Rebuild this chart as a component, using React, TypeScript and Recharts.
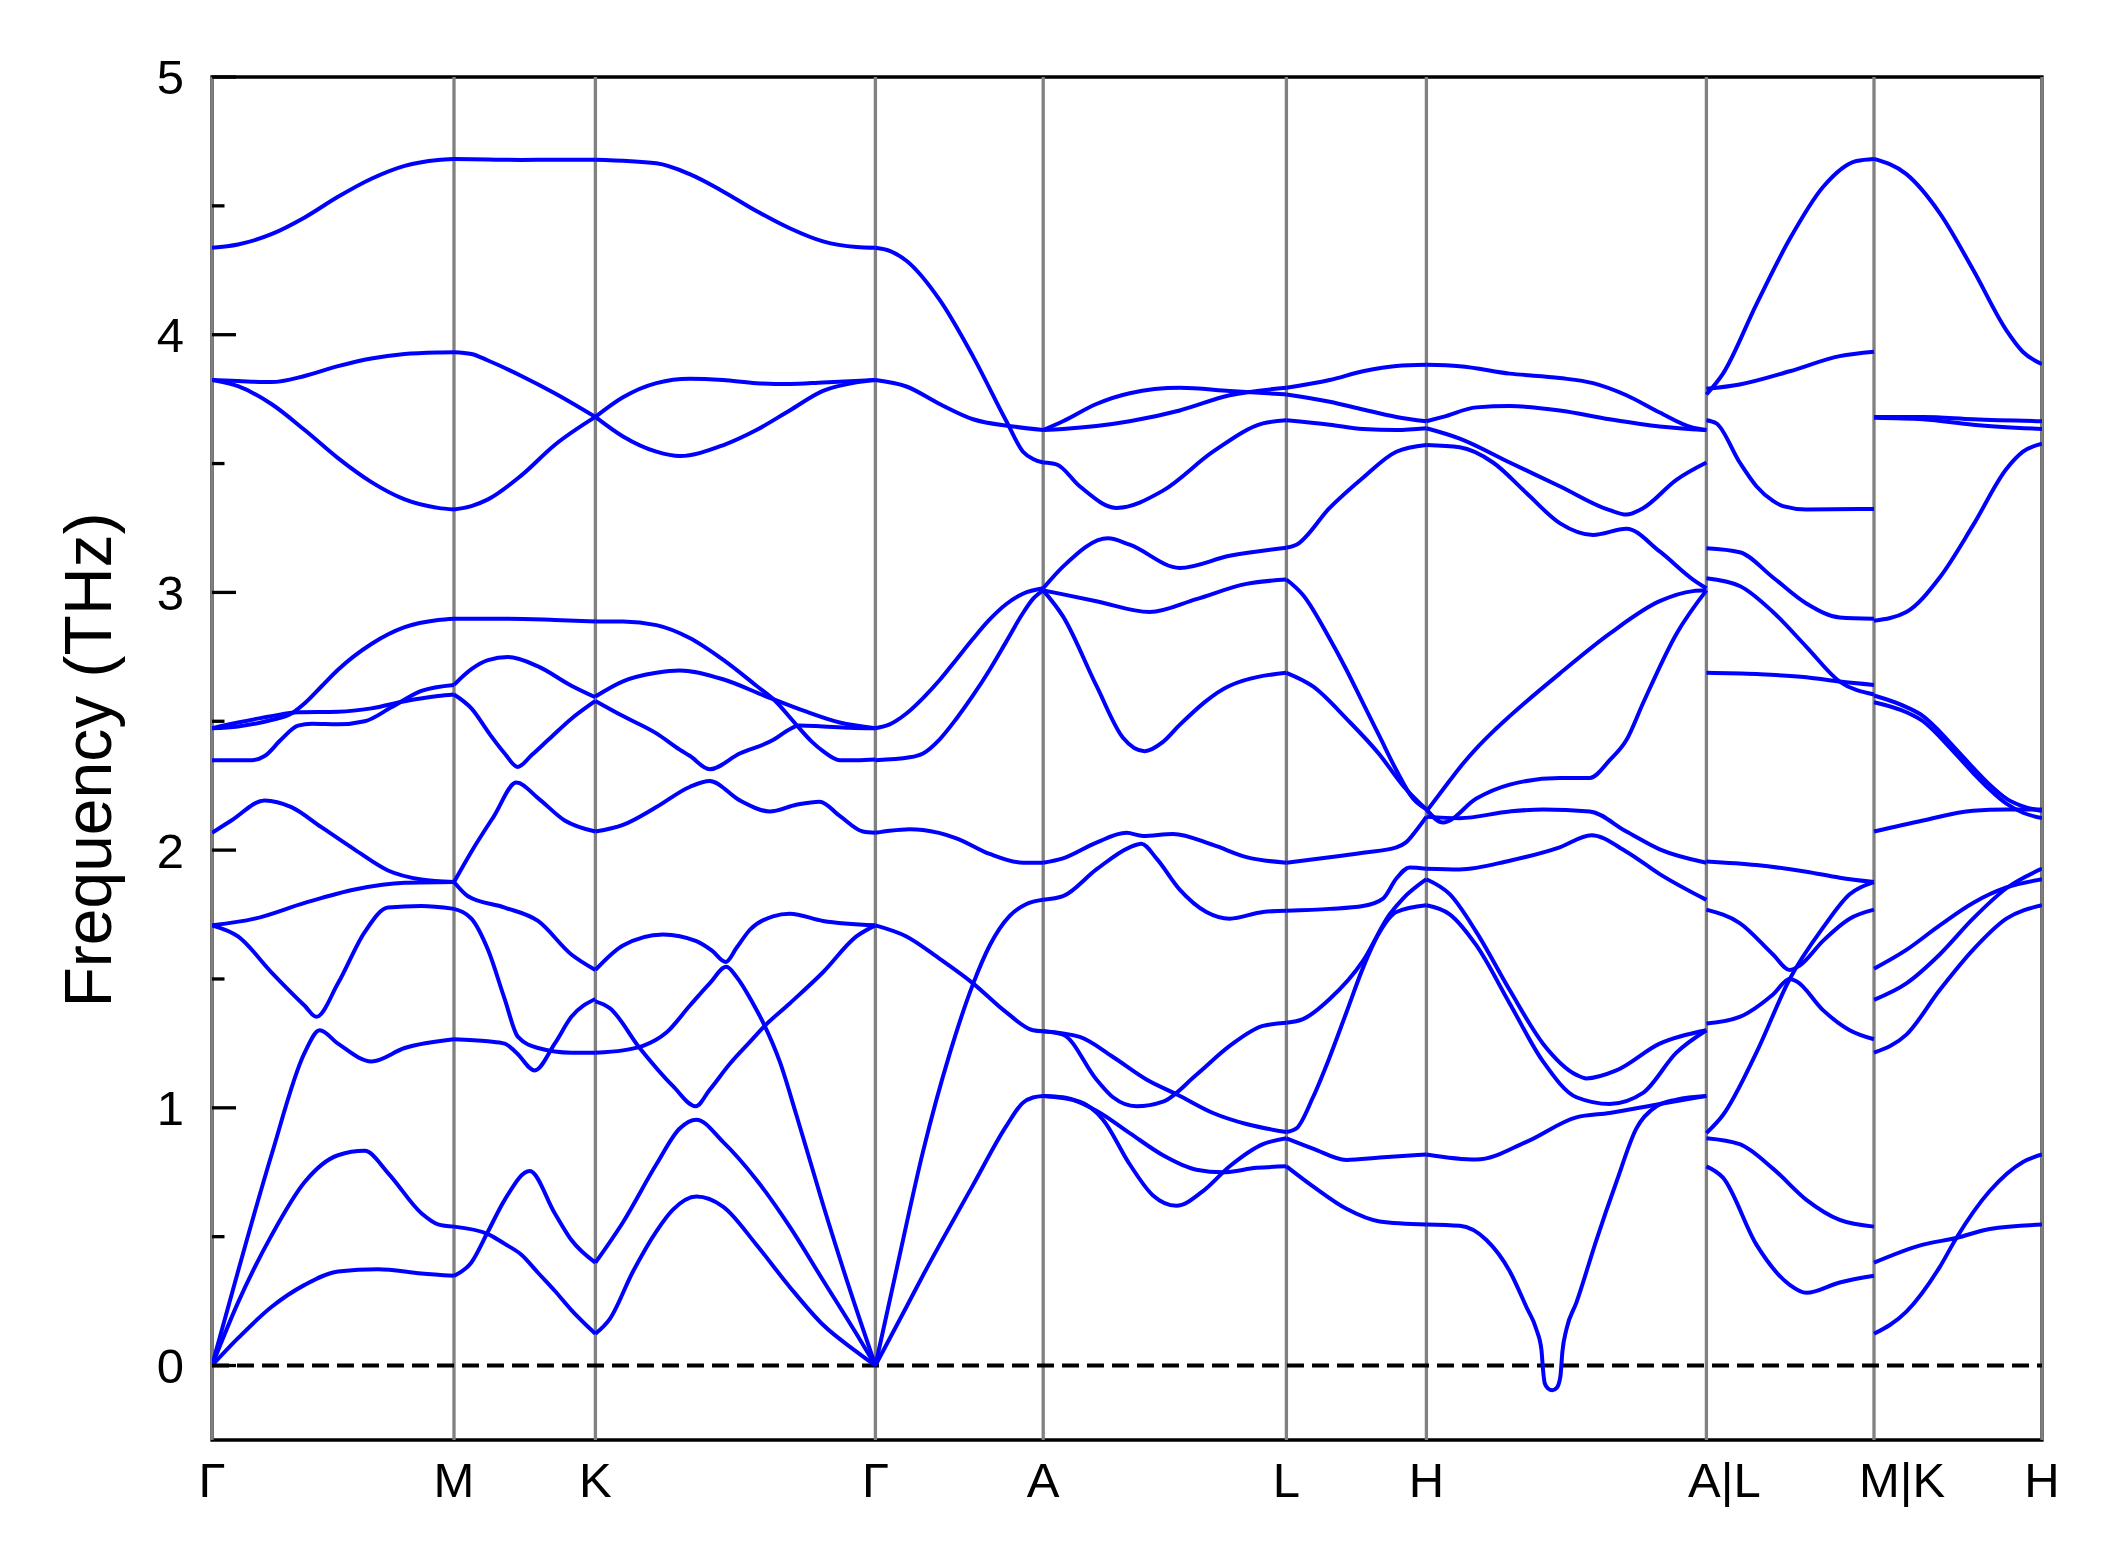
import React from 'react';
import { LineChart, Line, XAxis, YAxis, ReferenceLine, ReferenceArea } from 'recharts';

if (typeof document !== 'undefined') document.body.style.margin = '0';

type Band = [number, number][];

const FONT = '"Liberation Sans", Arial, Helvetica, sans-serif';
const W = 2120;
const H = 1567;

// distance along the k-path of each high-symmetry point
const kPoints = [0, 242, 383.4, 663.4, 831.2, 1074.4, 1214.4, 1494.4, 1662, 1830];
const kLabels = ['Γ', 'M', 'K', 'Γ', 'A', 'L', 'H', 'A|L', 'M|K', 'H'];
const freqTicks = [0, 0.5, 1, 1.5, 2, 2.5, 3, 3.5, 4, 4.5, 5];
const freqMin = -0.289;
const freqMax = 5;

// Γ - M
const gammaM: Band[] = [
  [[0, 4.337], [26, 4.35], [59.4, 4.39], [92.7, 4.455], [126, 4.535], [159.4, 4.605], [192.7, 4.655], [226, 4.678], [242, 4.682]],
  [[0, 3.824], [26, 3.82], [59.4, 3.816], [92.7, 3.84], [126, 3.878], [159.4, 3.908], [192.7, 3.925], [226, 3.931], [242, 3.932]],
  [[0, 3.824], [26, 3.8], [59.4, 3.731], [92.7, 3.63], [126, 3.521], [159.4, 3.428], [192.7, 3.361], [226, 3.328], [242, 3.322]],
  [[0, 2.473], [26, 2.48], [59.4, 2.505], [79.4, 2.53], [92.7, 2.57], [109.4, 2.635], [126, 2.7], [159.4, 2.8], [192.7, 2.865], [226, 2.893], [242, 2.898]],
  [[0, 2.473], [26, 2.495], [59.4, 2.52], [86, 2.535], [126, 2.537], [159.4, 2.55], [192.7, 2.578], [226, 2.598], [242, 2.604]],
  [[0, 2.349], [40, 2.349], [52.7, 2.365], [69.4, 2.43], [86, 2.483], [100, 2.49], [126, 2.488], [152.7, 2.5], [179.4, 2.554], [209.4, 2.618], [242, 2.641]],
  [[0, 2.067], [19.4, 2.115], [52.7, 2.193], [79.4, 2.167], [109.4, 2.089], [142.7, 2.002], [176, 1.921], [209.4, 1.886], [242, 1.876]],
  [[0, 1.708], [42.7, 1.734], [92.7, 1.795], [142.7, 1.847], [192.7, 1.873], [242, 1.876]],
  [[0, 1.708], [26, 1.665], [59.4, 1.526], [92.7, 1.396], [104.4, 1.353], [126, 1.483], [152.7, 1.682], [176, 1.777], [209.4, 1.783], [242, 1.772]],
  [[0, 0], [26, 0.365], [59.4, 0.816], [92.7, 1.214], [107.7, 1.301], [126, 1.249], [159.4, 1.18], [192.7, 1.232], [242, 1.266]],
  [[0, 0], [26, 0.244], [59.4, 0.504], [92.7, 0.712], [126, 0.816], [152.7, 0.833], [176, 0.747], [209.4, 0.591], [226, 0.548], [242, 0.539]],
  [[0, 0], [26, 0.106], [59.4, 0.227], [92.7, 0.313], [126, 0.365], [166, 0.374], [209.4, 0.357], [242, 0.348]],
];

// M - K
const mK: Band[] = [
  [[242, 4.682], [276, 4.68], [309.4, 4.678], [342.7, 4.679], [383.4, 4.679]],
  [[242, 3.932], [259.4, 3.925], [276, 3.9], [309.4, 3.84], [342.7, 3.773], [383.4, 3.681]],
  [[242, 3.322], [259.4, 3.335], [276, 3.361], [309.4, 3.454], [342.7, 3.572], [383.4, 3.681]],
  [[242, 2.898], [292.7, 2.898], [342.7, 2.893], [383.4, 2.887]],
  [[242, 2.641], [259.4, 2.702], [276, 2.737], [296, 2.749], [326, 2.713], [359.4, 2.638], [383.4, 2.593]],
  [[242, 2.604], [259.4, 2.55], [277.7, 2.45], [292.7, 2.375], [305.6, 2.323], [320, 2.37], [336, 2.427], [359.4, 2.51], [383.4, 2.579]],
  [[242, 1.876], [259.4, 1.994], [282, 2.132], [304.4, 2.262], [326, 2.202], [352.7, 2.115], [383.4, 2.072]],
  [[242, 1.876], [256, 1.821], [292.7, 1.777], [326, 1.725], [359.4, 1.595], [383.4, 1.535]],
  [[242, 1.772], [259.4, 1.734], [276, 1.613], [292.7, 1.422], [306, 1.275], [326, 1.232], [359.4, 1.214], [383.4, 1.214]],
  [[242, 1.266], [276, 1.258], [292.7, 1.249], [304.4, 1.214], [322.7, 1.145], [342.7, 1.249], [359.4, 1.353], [383.4, 1.422]],
  [[242, 0.539], [276, 0.51], [292.7, 0.472], [309.4, 0.43], [326, 0.36], [342.7, 0.29], [359.4, 0.215], [383.4, 0.123]],
  [[242, 0.348], [259.4, 0.4], [276, 0.52], [292.7, 0.643], [317.7, 0.755], [342.7, 0.591], [359.4, 0.487], [383.4, 0.399]],
];

// K - Γ
const kGamma: Band[] = [
  [[383.4, 4.679], [444.4, 4.665], [477.7, 4.623], [511, 4.556], [544.4, 4.48], [577.7, 4.413], [611, 4.362], [644.4, 4.34], [663.4, 4.337]],
  [[383.4, 3.681], [411, 3.757], [444.4, 3.812], [477.7, 3.829], [511, 3.824], [544.4, 3.812], [577.7, 3.809], [611, 3.815], [663.4, 3.824]],
  [[383.4, 3.681], [411, 3.605], [444.4, 3.546], [467.7, 3.529], [511, 3.571], [544.4, 3.63], [577.7, 3.706], [611, 3.782], [644.4, 3.815], [663.4, 3.824]],
  [[383.4, 2.887], [411, 2.887], [444.4, 2.873], [477.7, 2.823], [511, 2.739], [544.4, 2.638], [561, 2.587], [584.4, 2.486], [600, 2.42], [611, 2.384], [627.7, 2.349], [644.4, 2.349], [663.4, 2.352]],
  [[383.4, 2.596], [411, 2.655], [444.4, 2.688], [467.7, 2.697], [511, 2.663], [554.4, 2.596], [594.4, 2.537], [627.7, 2.495], [663.4, 2.473]],
  [[383.4, 2.579], [411, 2.52], [444.4, 2.453], [467.7, 2.39], [477.7, 2.366], [497.7, 2.314], [527.7, 2.375], [561, 2.427], [577.7, 2.469], [587, 2.484], [611, 2.48], [637.7, 2.475], [663.4, 2.473]],
  [[383.4, 2.072], [411, 2.098], [444.4, 2.167], [477.7, 2.245], [497.7, 2.268], [527.7, 2.193], [557.7, 2.15], [584.4, 2.176], [607.7, 2.188], [627.7, 2.133], [651, 2.072], [663.4, 2.067]],
  [[383.4, 1.535], [411, 1.63], [451, 1.673], [484.4, 1.647], [500, 1.61], [513.7, 1.566], [524.4, 1.62], [537.7, 1.69], [561, 1.743], [577.7, 1.753], [611, 1.725], [663.4, 1.708]],
  [[383.4, 1.413], [397.7, 1.387], [427.7, 1.232], [461, 1.084], [483.7, 1.006], [497.7, 1.07], [517.7, 1.17], [537.7, 1.255], [552.7, 1.318], [577.7, 1.405], [611, 1.526], [644.4, 1.665], [663.4, 1.708]],
  [[383.4, 1.214], [411, 1.223], [431, 1.24], [454.4, 1.292], [477.7, 1.396], [497.7, 1.483], [514.4, 1.547], [524.4, 1.509], [541, 1.405], [552.7, 1.318], [567.7, 1.18], [584.4, 0.972], [611, 0.625], [637.7, 0.296], [663.4, 0]],
  [[383.4, 0.399], [411, 0.556], [444.4, 0.781], [467.7, 0.92], [484.4, 0.954], [511, 0.868], [544.4, 0.721], [577.7, 0.539], [611, 0.331], [644.4, 0.123], [663.4, 0]],
  [[383.4, 0.123], [397.7, 0.18], [421, 0.365], [444.4, 0.521], [461, 0.605], [484.4, 0.656], [511, 0.617], [544.4, 0.469], [577.7, 0.305], [611, 0.158], [644.4, 0.054], [663.4, 0]],
];

// Γ - A (degenerate pairs drawn once)
const gammaA: Band[] = [
  [[663.4, 4.337], [677.7, 4.325], [694.4, 4.287], [727.7, 4.135], [761, 3.916], [794.4, 3.664], [811, 3.546], [821, 3.518], [831.2, 3.504]],
  [[663.4, 3.824], [694.4, 3.799], [727.7, 3.731], [761, 3.672], [801, 3.644], [831.2, 3.63]],
  [[663.4, 2.473], [677.7, 2.488], [694.4, 2.53], [711, 2.59], [727.7, 2.66], [744.4, 2.74], [761, 2.82], [777.7, 2.895], [794.4, 2.955], [811, 2.995], [831.2, 3.016]],
  [[663.4, 2.349], [697.7, 2.36], [711, 2.375], [727.7, 2.43], [744.4, 2.51], [761, 2.6], [777.7, 2.7], [794.4, 2.81], [811, 2.92], [821, 2.975], [831.2, 3.008]],
  [[663.4, 2.067], [677.7, 2.075], [697.7, 2.081], [711, 2.078], [744.4, 2.046], [777.7, 1.985], [811, 1.951], [831.2, 1.951]],
  [[663.4, 1.708], [694.4, 1.665], [727.7, 1.578], [761, 1.483], [794.4, 1.37], [821, 1.301], [831.2, 1.297]],
  [[663.4, 0], [684.4, 0.37], [711, 0.83], [737.7, 1.21], [761, 1.48], [777.7, 1.63], [797.7, 1.745], [814, 1.79], [831.2, 1.807]],
  [[663.4, 0], [694.4, 0.227], [711, 0.35], [727.7, 0.469], [761, 0.7], [794.4, 0.93], [811, 1.02], [821, 1.04], [831.2, 1.046]],
];

// A - L
const aL: Band[] = [
  [[831.2, 3.63], [851, 3.664], [884.4, 3.731], [917.7, 3.773], [967.7, 3.794], [1017.7, 3.782], [1074.4, 3.768]],
  [[831.2, 3.63], [851, 3.634], [917.7, 3.664], [967.7, 3.706], [1017.7, 3.765], [1074.4, 3.794]],
  [[831.2, 3.504], [844.4, 3.497], [867.7, 3.412], [904.4, 3.328], [951, 3.395], [1001, 3.546], [1051, 3.656], [1074.4, 3.668]],
  [[831.2, 3.016], [851, 3.1], [896, 3.21], [917.7, 3.185], [967.7, 3.095], [1017.7, 3.142], [1074.4, 3.173]],
  [[831.2, 3.008], [884.4, 2.966], [937.7, 2.924], [984.4, 2.974], [1034.4, 3.033], [1074.4, 3.05]],
  [[831.2, 3.008], [851, 2.907], [884.4, 2.638], [911, 2.436], [932.7, 2.384], [951, 2.42], [967.7, 2.486], [1017.7, 2.638], [1074.4, 2.688]],
  [[831.2, 1.951], [851, 1.968], [884.4, 2.029], [914.4, 2.067], [931, 2.055], [961, 2.063], [1001, 2.02], [1034.4, 1.973], [1074.4, 1.951]],
  [[831.2, 1.807], [851, 1.821], [884.4, 1.925], [917.7, 2.011], [929.4, 2.025], [944.4, 1.968], [967.7, 1.847], [994.4, 1.76], [1017.7, 1.734], [1051, 1.76], [1074.4, 1.765]],
  [[831.2, 1.297], [851, 1.284], [884.4, 1.11], [901, 1.041], [924.4, 1.006], [951, 1.024], [984.4, 1.128], [1017.7, 1.24], [1051, 1.318], [1074.4, 1.33]],
  [[831.2, 1.297], [867.7, 1.275], [901, 1.197], [934.4, 1.11], [966, 1.05], [1001, 0.98], [1034.4, 0.937], [1074.4, 0.906]],
  [[831.2, 1.046], [851, 1.041], [884.4, 0.989], [917.7, 0.902], [951, 0.816], [984.4, 0.76], [1011, 0.75], [1044.4, 0.767], [1074.4, 0.773]],
  [[831.2, 1.046], [867.7, 1.024], [891, 0.954], [917.7, 0.781], [941, 0.66], [964.4, 0.62], [991, 0.677], [1017.7, 0.773], [1051, 0.859], [1074.4, 0.882]],
];

// L - H
const lH: Band[] = [
  [[1074.4, 3.794], [1117.7, 3.824], [1151, 3.858], [1184.4, 3.879], [1214.4, 3.883]],
  [[1074.4, 3.768], [1117.7, 3.74], [1151, 3.71], [1184.4, 3.681], [1214.4, 3.664]],
  [[1074.4, 3.668], [1117.7, 3.651], [1151, 3.634], [1184.4, 3.63], [1214.4, 3.637]],
  [[1074.4, 3.173], [1084.4, 3.185], [1117.7, 3.328], [1151, 3.445], [1184.4, 3.546], [1214.4, 3.572]],
  [[1074.4, 3.05], [1091, 2.99], [1117.7, 2.82], [1134.4, 2.7], [1151, 2.57], [1167.7, 2.44], [1184.4, 2.31], [1201, 2.2], [1214.4, 2.158]],
  [[1074.4, 2.688], [1101, 2.635], [1134.4, 2.51], [1167.7, 2.37], [1191, 2.25], [1214.4, 2.158]],
  [[1074.4, 1.951], [1117.7, 1.972], [1151, 1.99], [1184.4, 2.011], [1194, 2.03], [1204, 2.075], [1214.4, 2.129]],
  [[1074.4, 1.765], [1117.7, 1.772], [1151, 1.783], [1171, 1.812], [1184.4, 1.89], [1197.7, 1.933], [1214.4, 1.928]],
  [[1074.4, 1.33], [1091, 1.344], [1117.7, 1.422], [1151, 1.57], [1177.7, 1.751], [1191, 1.812], [1214.4, 1.887]],
  [[1074.4, 0.906], [1084.4, 0.92], [1101, 1.041], [1117.7, 1.197], [1134.4, 1.37], [1151, 1.543], [1167.7, 1.682], [1184.4, 1.76], [1214.4, 1.786]],
  [[1074.4, 0.882], [1101, 0.842], [1134.4, 0.798], [1167.7, 0.807], [1214.4, 0.819]],
  [[1074.4, 0.773], [1101, 0.695], [1134.4, 0.608], [1167.7, 0.559], [1214.4, 0.547]],
];

// H - A
const hA: Band[] = [
  [[1214.4, 3.883], [1247.7, 3.878], [1297.7, 3.849], [1347.7, 3.832], [1381, 3.812], [1414.4, 3.765], [1447.7, 3.698], [1481, 3.639], [1494.4, 3.63]],
  [[1214.4, 3.664], [1231, 3.681], [1264.4, 3.718], [1297.7, 3.723], [1347.7, 3.706], [1397.7, 3.672], [1447.7, 3.644], [1494.4, 3.63]],
  [[1214.4, 3.637], [1247.7, 3.597], [1297.7, 3.504], [1347.7, 3.412], [1397.7, 3.319], [1414.4, 3.302], [1431, 3.327], [1464.4, 3.437], [1494.4, 3.504]],
  [[1214.4, 3.572], [1247.7, 3.563], [1281, 3.504], [1314.4, 3.386], [1347.7, 3.269], [1381, 3.223], [1414.4, 3.247], [1447.7, 3.159], [1481, 3.05], [1494.4, 3.016]],
  [[1214.4, 2.15], [1231, 2.235], [1247.7, 2.32], [1264.4, 2.395], [1281, 2.46], [1297.7, 2.52], [1347.7, 2.685], [1397.7, 2.84], [1447.7, 2.966], [1481, 3.005], [1494.4, 3.008]],
  [[1214.4, 2.158], [1231, 2.107], [1264.4, 2.2], [1297.7, 2.254], [1347.7, 2.28], [1377.7, 2.28], [1397.7, 2.349], [1414.4, 2.427], [1431, 2.57], [1464.4, 2.839], [1494.4, 3.008]],
  [[1214.4, 2.129], [1247.7, 2.124], [1297.7, 2.15], [1331, 2.158], [1377.7, 2.15], [1414.4, 2.072], [1447.7, 2.003], [1494.4, 1.951]],
  [[1214.4, 1.928], [1247.7, 1.925], [1297.7, 1.959], [1347.7, 2.011], [1379.4, 2.058], [1414.4, 1.994], [1447.7, 1.907], [1494.4, 1.807]],
  [[1214.4, 1.887], [1237.7, 1.829], [1264.4, 1.682], [1297.7, 1.457], [1331, 1.249], [1364.4, 1.128], [1374.4, 1.114], [1404.4, 1.145], [1447.7, 1.249], [1494.4, 1.301]],
  [[1214.4, 1.786], [1237.7, 1.751], [1264.4, 1.63], [1297.7, 1.405], [1331, 1.18], [1364.4, 1.041], [1397.7, 1.015], [1431, 1.058], [1464.4, 1.214], [1494.4, 1.301]],
  [[1214.4, 0.819], [1264.4, 0.799], [1314.4, 0.868], [1364.4, 0.963], [1397.7, 0.98], [1447.7, 1.015], [1494.4, 1.046]],
  [[1214.4, 0.547], [1247.7, 0.542], [1274.4, 0.487], [1297.7, 0.366], [1314.4, 0.227], [1324.4, 0.14], [1329.4, 0.062], [1331, -0.016], [1332.7, -0.068], [1336, -0.089], [1340.4, -0.096], [1345, -0.085], [1348.4, -0.042], [1350.4, 0.054], [1354.4, 0.14], [1364.4, 0.244], [1384.4, 0.487], [1404.4, 0.712], [1424.4, 0.92], [1444.4, 1.006], [1464.4, 1.032], [1494.4, 1.046]],
];

// L - M
const lM: Band[] = [
  [[1494.4, 3.79], [1527.7, 3.807], [1577.7, 3.858], [1627.7, 3.917], [1662, 3.934]],
  [[1494.4, 3.768], [1511, 3.849], [1544.4, 4.118], [1577.7, 4.371], [1611, 4.573], [1644.4, 4.674], [1662, 4.682]],
  [[1494.4, 3.668], [1504.4, 3.656], [1527.7, 3.504], [1544.4, 3.412], [1561, 3.355], [1571, 3.335], [1594.4, 3.322], [1662, 3.324]],
  [[1494.4, 3.171], [1527.7, 3.156], [1561, 3.058], [1594.4, 2.957], [1627.7, 2.903], [1662, 2.898]],
  [[1494.4, 3.055], [1527.7, 3.025], [1561, 2.924], [1594.4, 2.789], [1627.7, 2.654], [1662, 2.604]],
  [[1494.4, 2.688], [1544.4, 2.683], [1594.4, 2.671], [1627.7, 2.654], [1662, 2.641]],
  [[1494.4, 1.956], [1544.4, 1.942], [1594.4, 1.916], [1627.7, 1.893], [1662, 1.876]],
  [[1494.4, 1.769], [1527.7, 1.717], [1561, 1.595], [1577.7, 1.535], [1587.7, 1.552], [1611, 1.648], [1637.7, 1.734], [1662, 1.769]],
  [[1494.4, 1.327], [1527.7, 1.353], [1561, 1.44], [1577.7, 1.5], [1584.4, 1.491], [1611, 1.379], [1637.7, 1.301], [1662, 1.266]],
  [[1494.4, 0.902], [1511, 0.972], [1544.4, 1.214], [1577.7, 1.5], [1611, 1.699], [1637.7, 1.829], [1662, 1.876]],
  [[1494.4, 0.882], [1527.7, 0.859], [1561, 0.764], [1594.4, 0.643], [1627.7, 0.565], [1662, 0.539]],
  [[1494.4, 0.773], [1511, 0.729], [1544.4, 0.469], [1577.7, 0.313], [1594.4, 0.282], [1627.7, 0.322], [1662, 0.348]],
];

// K - H
const kH: Band[] = [
  [[1662, 4.682], [1694.4, 4.623], [1727.7, 4.472], [1761, 4.253], [1794.4, 4.017], [1811, 3.933], [1830, 3.886]],
  [[1662, 3.681], [1711, 3.681], [1761, 3.672], [1830, 3.664]],
  [[1662, 3.678], [1711, 3.672], [1761, 3.651], [1830, 3.634]],
  [[1662, 2.89], [1694.4, 2.924], [1727.7, 3.058], [1761, 3.26], [1794.4, 3.479], [1811, 3.546], [1830, 3.577]],
  [[1662, 2.6], [1694.4, 2.555], [1711, 2.52], [1727.7, 2.46], [1744.4, 2.39], [1761, 2.32], [1777.7, 2.254], [1794.4, 2.2], [1811, 2.17], [1830, 2.152]],
  [[1662, 2.574], [1694.4, 2.535], [1711, 2.5], [1727.7, 2.44], [1744.4, 2.37], [1761, 2.3], [1777.7, 2.235], [1794.4, 2.18], [1811, 2.145], [1830, 2.124]],
  [[1662, 2.072], [1711, 2.115], [1761, 2.153], [1794.4, 2.158], [1830, 2.158]],
  [[1662, 1.54], [1694.4, 1.613], [1727.7, 1.708], [1761, 1.795], [1794.4, 1.855], [1830, 1.887]],
  [[1662, 1.419], [1694.4, 1.483], [1727.7, 1.595], [1761, 1.734], [1794.4, 1.852], [1830, 1.928]],
  [[1662, 1.214], [1694.4, 1.284], [1727.7, 1.457], [1761, 1.613], [1794.4, 1.734], [1830, 1.786]],
  [[1662, 0.399], [1711, 0.469], [1744.4, 0.495], [1777.7, 0.53], [1830, 0.547]],
  [[1662, 0.123], [1694.4, 0.209], [1727.7, 0.382], [1744.4, 0.495], [1777.7, 0.677], [1811, 0.79], [1830, 0.819]],
];

const segments = [gammaM, mK, kGamma, gammaA, aL, lH, hA, lM, kH];

// labels with a "|" sit with their first letter on the line
const labelShift: Record<string, number> = { 'A|L': 18, 'M|K': 28 };

const FreqTick = (props: any) => {
  const { x, y, payload } = props;
  const v = payload.value as number;
  const major = Number.isInteger(v);
  return (
    <g>
      <line x1={x} x2={x + (major ? 24 : 12.5)} y1={y} y2={y} stroke="#000" strokeWidth={3.3} />
      {major && (
        <text x={x - 28} y={y} dy="0.355em" textAnchor="end" fontSize={49} fontFamily={FONT} fill="#000">
          {v}
        </text>
      )}
    </g>
  );
};

const PathTick = (props: any) => {
  const { x, y, index } = props;
  const label = kLabels[index] ?? '';
  return (
    <text x={x + (labelShift[label] ?? 0)} y={y + 57} textAnchor="middle" fontSize={49} fontFamily={FONT} fill="#000">
      {label}
    </text>
  );
};

export default function App() {
  return (
    <div style={{ position: 'relative', width: W, height: H, background: '#fff' }}>
      <LineChart width={W} height={H} margin={{ top: 77, right: 78, bottom: 67, left: 100 }}>
        <XAxis
          dataKey="x"
          type="number"
          domain={[0, 1830]}
          ticks={kPoints}
          interval={0}
          tick={PathTick}
          tickLine={false}
          axisLine={false}
          tickSize={0}
          tickMargin={0}
          height={60}
          allowDataOverflow
        />
        <YAxis
          type="number"
          domain={[freqMin, freqMax]}
          ticks={freqTicks}
          interval={0}
          tick={FreqTick}
          tickLine={false}
          axisLine={false}
          tickSize={0}
          tickMargin={0}
          width={112}
          allowDataOverflow
        />
        {kPoints.map((k) => (
          <ReferenceLine key={`k-${k}`} x={k} stroke="#808080" strokeWidth={3.3} />
        ))}
        <ReferenceLine y={0} stroke="#000" strokeWidth={4} strokeDasharray="17 8" />
        {segments.flatMap((seg, i) =>
          seg.map((band, j) => (
            <Line
              key={`b-${i}-${j}`}
              data={band.map(([x, f]) => ({ x, f }))}
              dataKey="f"
              type="monotone"
              stroke="#0000ff"
              strokeWidth={4}
              dot={false}
              activeDot={false}
              isAnimationActive={false}
            />
          ))
        )}
        <ReferenceArea x1={0} x2={1830} y1={freqMin} y2={freqMax} fill="none" stroke="#000" strokeWidth={3.3} />
      </LineChart>
      <svg width={W} height={H} style={{ position: 'absolute', left: 0, top: 0, pointerEvents: 'none' }}>
        <text
          x={111}
          y={760}
          transform="rotate(-90 111 760)"
          textAnchor="middle"
          fontSize={66}
          fontFamily={FONT}
          fill="#000"
        >
          Frequency (THz)
        </text>
      </svg>
    </div>
  );
}
